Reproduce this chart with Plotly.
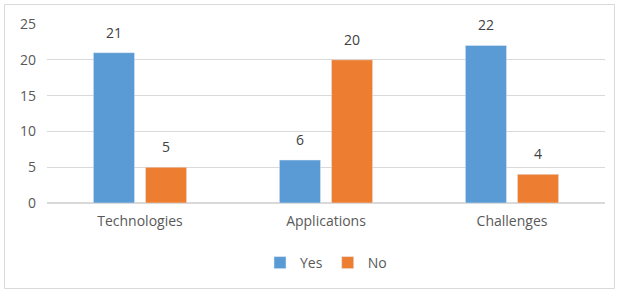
import plotly.graph_objects as go

categories = ["Technologies", "Applications", "Challenges"]
yes_values = [21, 6, 22]
no_values = [5, 20, 4]
y_ticks = [0, 5, 10, 15, 20, 25]

W, H = 621, 294
ml, mr, mt, mb = 47, 16, 24, 91
pw, ph = W - ml - mr, H - mt - mb

FONT = "Open Sans, Liberation Sans, sans-serif"
TXT = "#595959"

fig = go.Figure()
fig.add_trace(go.Bar(name="Yes", x=categories, y=yes_values, marker_color="#5B9BD5"))
fig.add_trace(go.Bar(name="No", x=categories, y=no_values, marker_color="#ED7D31"))

# data labels above each bar
for vals, shift in ((yes_values, -26), (no_values, 26)):
    for c, v in zip(categories, vals):
        fig.add_annotation(x=c, y=v, xref="x", yref="y", text=str(v), showarrow=False,
                           xshift=shift, yshift=9, yanchor="bottom",
                           font=dict(family=FONT, size=14, color="#404040"))

def px_x(p):
    return (p - ml) / pw

def px_y(p):
    return 1 - (p - mt) / ph

fig.add_shape(type="rect", xref="paper", yref="paper",
              x0=px_x(4.5), x1=px_x(614.5), y0=px_y(288.5), y1=px_y(4.5),
              line=dict(color="#d9d9d9", width=1), layer="below")

fig.update_layout(
    width=W, height=H,
    margin=dict(l=ml, r=mr, t=mt, b=mb),
    barmode="group", bargap=0.44, bargroupgap=0.21,
    plot_bgcolor="white", paper_bgcolor="white",
    font=dict(family=FONT, color=TXT, size=14),
    showlegend=True,
    legend=dict(orientation="h", x=0.5, xanchor="center", y=px_y(263), yanchor="middle",
                font=dict(size=14, color=TXT), itemwidth=30, tracegroupgap=0),
    xaxis=dict(showline=False, ticks="", ticklabelstandoff=8,
               tickfont=dict(size=14, color=TXT)),
    yaxis=dict(range=[0, 25], tickvals=y_ticks, showgrid=True, gridcolor="#d9d9d9",
               zeroline=True, zerolinecolor="#d9d9d9", ticks="", ticklabelstandoff=10,
               tickfont=dict(size=14, color=TXT)),
)

fig.write_html("out.html", config={"displayModeBar": False},
               post_script="document.body.style.margin='0';")
